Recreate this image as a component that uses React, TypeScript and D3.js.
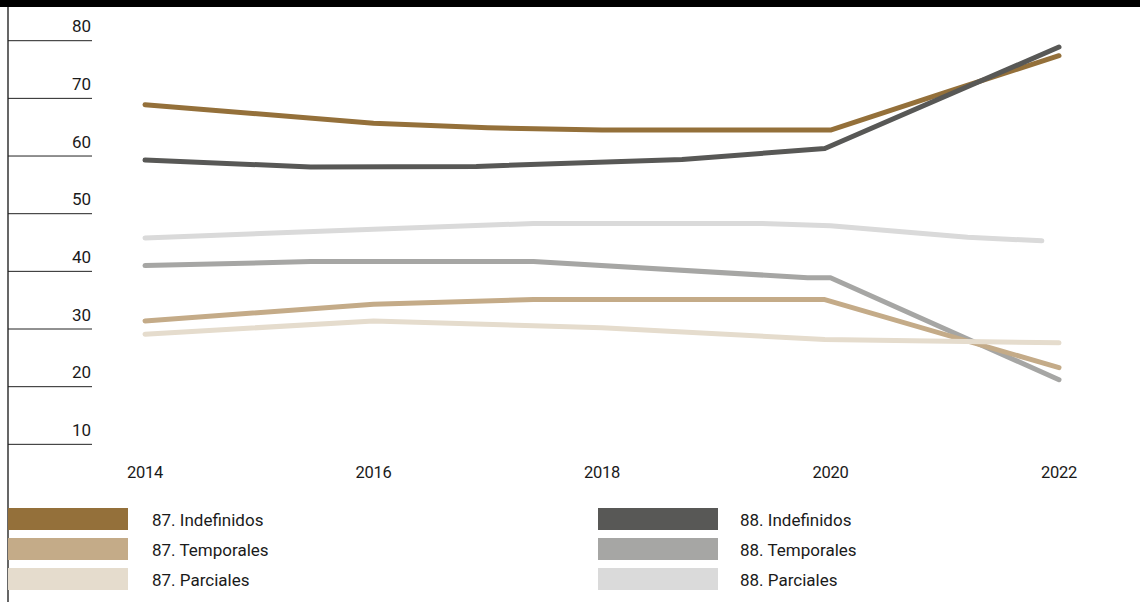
import React from "react";
import * as d3 from "d3";

const yTicks = [10, 20, 30, 40, 50, 60, 70, 80];
const xTicks = [2014, 2016, 2018, 2020, 2022];

const years87Ind = [2014, 2016, 2017, 2018, 2020, 2021, 2022];
const values87Ind = [68.9, 65.7, 64.9, 64.5, 64.5, 71, 77.4];

const years88Ind = [2014, 2015.45, 2016.9, 2018.7, 2019.95, 2022];
const values88Ind = [59.3, 58.1, 58.2, 59.4, 61.3, 78.9];

const years87Temp = [2014, 2016, 2017.4, 2019.95, 2022];
const values87Temp = [31.4, 34.3, 35.1, 35.1, 23.3];

const years88Temp = [2014, 2015.45, 2017.4, 2019.8, 2020, 2022];
const values88Temp = [41.0, 41.7, 41.7, 38.9, 38.9, 21.2];

const years87Parc = [2014, 2016, 2018, 2019.95, 2022];
const values87Parc = [29.1, 31.4, 30.2, 28.2, 27.6];

const years88Parc = [2014, 2016, 2017.4, 2019.4, 2020, 2021.2, 2021.85];
const values88Parc = [45.8, 47.3, 48.3, 48.3, 47.9, 45.9, 45.3];

const seriesNames = [
  "87. Indefinidos",
  "87. Temporales",
  "87. Parciales",
  "88. Indefinidos",
  "88. Temporales",
  "88. Parciales",
];
const seriesColors = ["#94703a", "#c4ab88", "#e5dccd", "#585856", "#a6a6a4", "#dadada"];
const seriesYears = [years87Ind, years87Temp, years87Parc, years88Ind, years88Temp, years88Parc];
const seriesValues = [values87Ind, values87Temp, values87Parc, values88Ind, values88Temp, values88Parc];
// drawing order (indices into the arrays above)
const drawOrder = [0, 3, 4, 1, 5, 2];

export default function App() {
  const W = 1140;
  const H = 602;
  const x = d3.scaleLinear().domain([2014, 2022]).range([145, 1059]);
  const y = d3.scaleLinear().domain([0, 80]).range([502, 40.7]);
  const line = d3
    .line<[number, number]>()
    .x((d) => x(d[0]))
    .y((d) => y(d[1]));

  const font = "Roboto, 'Noto Sans', sans-serif";

  return (
    <svg
      width={W}
      height={H}
      style={{ position: "absolute", left: 0, top: 0, background: "#fff" }}
      fontFamily={font}
    >
      <rect x={0} y={0} width={W} height={H} fill="#fff" />
      <rect x={0} y={0} width={W} height={7} fill="#000" />
      <line x1={8} x2={8} y1={0} y2={H} stroke="#000" strokeWidth={1.2} />

      {yTicks.map((t) => (
        <g key={t}>
          <line x1={8} x2={92} y1={y(t)} y2={y(t)} stroke="#222" strokeWidth={1} />
          <text x={91} y={y(t) - 8.5} textAnchor="end" fontSize={17} fill="#1a1a1a">
            {t}
          </text>
        </g>
      ))}

      {xTicks.map((t) => (
        <text key={t} x={x(t)} y={478} textAnchor="middle" fontSize={16.5} letterSpacing={-0.3} fill="#1a1a1a">
          {t}
        </text>
      ))}

      {drawOrder.map((i) => {
        const pts = seriesYears[i].map((yr, k) => [yr, seriesValues[i][k]] as [number, number]);
        return (
          <path
            key={i}
            d={line(pts) || ""}
            fill="none"
            stroke={seriesColors[i]}
            strokeWidth={5}
            strokeLinecap="round"
            strokeLinejoin="round"
          />
        );
      })}

      {seriesNames.map((name, i) => {
        const col = Math.floor(i / 3);
        const row = i % 3;
        const sx = col === 0 ? 8 : 598;
        const tx = col === 0 ? 152 : 740;
        const sy = 508 + row * 30;
        return (
          <g key={name}>
            <rect x={sx} y={sy} width={120} height={22} fill={seriesColors[i]} />
            <text x={tx} y={sy + 18} fontSize={17} fill="#1a1a1a">
              {name}
            </text>
          </g>
        );
      })}
    </svg>
  );
}
